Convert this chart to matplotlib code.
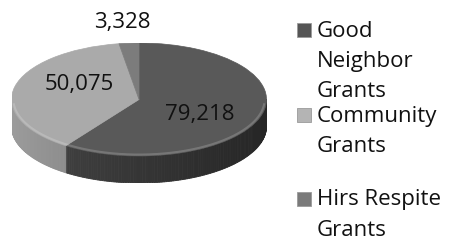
import numpy as np
import matplotlib.pyplot as plt
from matplotlib.patches import Wedge, Polygon, Rectangle

plt.rcParams['font.family'] = ['Open Sans', 'DejaVu Sans']

categories = ['Good\nNeighbor\nGrants', 'Community\nGrants', 'Hirs Respite\nGrants']
values = [79218, 50075, 3328]
value_labels = ['79,218', '50,075', '3,328']

top_colors = ['#595959', '#aaaaaa', '#7c7c7c']
side_colors = [0x45, 0x9c, 0x80]
legend_colors = ['#555555', '#b4b4b4', '#7a7a7a']

depth = 0.478  # side thickness in y data units

fig = plt.figure(figsize=(4.49, 2.40), dpi=100)
ax = fig.add_axes([11.5 / 449, (240 - 183) / 240, 255 / 449, 140 / 240])
ax.set_xlim(-1, 1)
ax.set_ylim(-1 - depth, 1)
ax.axis('off')

# slice angles, clockwise from 12 o'clock
total = sum(values)
angles = []
start = 90.0
for v in values:
    end = start - 360.0 * v / total
    angles.append((end, start))
    start = end

# side of the pie (front half only)
for (a0, a1), base in zip(angles, side_colors):
    a0n, a1n = a0 % 360, a1 % 360
    if a1n <= a0n:
        a1n += 360
    ts = np.linspace(a0n, a1n, 200)
    for t0, t1 in zip(ts[:-1], ts[1:]):
        tm = (t0 + t1) / 2 % 360
        if tm < 180:
            continue
        f = 1 - 0.45 * (np.cos(np.radians(tm)) + 1) / 2
        g = base * f / 255
        r0, r1 = np.radians(t0), np.radians(t1)
        pts = [(np.cos(r0), np.sin(r0)), (np.cos(r1), np.sin(r1)),
               (np.cos(r1), np.sin(r1) - depth), (np.cos(r0), np.sin(r0) - depth)]
        ax.add_patch(Polygon(pts, closed=True, facecolor=(g, g, g),
                             edgecolor=(g, g, g), lw=0.6))

# top face
for (a0, a1), c in zip(angles, top_colors):
    ax.add_patch(Wedge((0, 0), 1, a0, a1, facecolor=c, edgecolor=c, lw=0.5))

# light rim on the front edge
t = np.radians(np.linspace(185, 355, 200))
ax.plot(0.985 * np.cos(t), 0.975 * np.sin(t), color='white', alpha=0.18, lw=1.5)

label_pos = [(0.478, -0.257), (-0.467, 0.257), (-0.133, 1.354)]
for (x, y), txt in zip(label_pos, value_labels):
    ax.text(x, y, txt, ha='center', va='center', fontsize=16, color='#111111',
            clip_on=False)

# legend drawn by hand
first_baselines = [36.7, 121.7, 205.5]
line_step = 30.0
for lab, c, b in zip(categories, legend_colors, first_baselines):
    fig.patches.append(Rectangle((297 / 449, (240 - b) / 240), 14 / 449, 14 / 240,
                                 transform=fig.transFigure, facecolor=c,
                                 edgecolor='#9a9a9a', lw=0.6))
    for i, line in enumerate(lab.split('\n')):
        fig.text(317 / 449, (240 - b - i * line_step) / 240, line, fontsize=16,
                 va='baseline', ha='left', color='#111111')

fig.savefig('out.png', dpi=100)
